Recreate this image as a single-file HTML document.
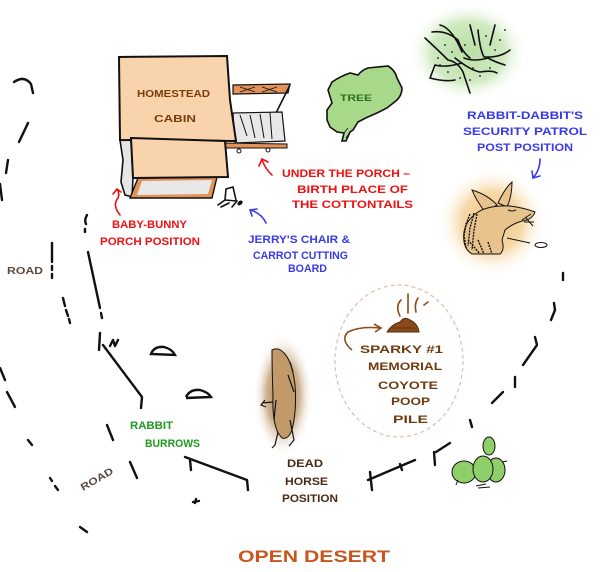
<!DOCTYPE html>
<html><head><meta charset="utf-8"><style>
html,body{margin:0;padding:0;background:#fff}
svg{display:block}
text{font-family:"Liberation Sans",sans-serif;font-weight:bold}
.r{fill:none;stroke:#111;stroke-width:2.4;stroke-linecap:round;stroke-linejoin:round}
.t{fill:none;stroke:#111;stroke-width:1.6;stroke-linecap:round;stroke-linejoin:round}
</style></head><body>
<svg width="600" height="572" viewBox="0 0 600 572" xmlns="http://www.w3.org/2000/svg">
<defs>
<radialGradient id="gShrub"><stop offset="0" stop-color="#b9dfa6"/><stop offset="0.6" stop-color="#cfe9c0"/><stop offset="1" stop-color="#fff" stop-opacity="0"/></radialGradient>
<radialGradient id="gRab"><stop offset="0" stop-color="#f0c07a"/><stop offset="0.55" stop-color="#f6d9a8"/><stop offset="1" stop-color="#fff" stop-opacity="0"/></radialGradient>
<radialGradient id="gHorse"><stop offset="0" stop-color="#a47a4e"/><stop offset="0.55" stop-color="#cfb290"/><stop offset="1" stop-color="#fff" stop-opacity="0"/></radialGradient>
</defs>

<!-- Cabin -->
<polygon points="120,140 131,139 133,178 132,197 125,195 121,182 123,160" fill="#e6e6e6" stroke="#111" stroke-width="1.6"/>
<polygon points="138,178 217,177 212,198 130,198" fill="#e3925a" stroke="#111" stroke-width="1.4"/>
<polygon points="142,181 212,180 208,194 137,195" fill="#e8e8e8"/>
<polygon points="233,85 290,84 288,93 233,94" fill="#e3925a" stroke="#111" stroke-width="1.2"/>
<path d="M240,87 L255,92 M255,87 L240,92 M262,87 L277,92 M277,87 L262,92" stroke="#111" stroke-width="0.8"/>
<path d="M290,85 L276,113" class="t"/>
<polygon points="233,113 282,112 285,141 235,143" fill="#e8e8e8" stroke="#111" stroke-width="1.2"/>
<path d="M240,115 L247,136 M250,115 L255,138 M260,114 L264,138 M270,113 L272,139" stroke="#111" stroke-width="1"/>
<polygon points="225,143 287,144 287,148 226,148" fill="#e3925a" stroke="#111" stroke-width="1"/>
<circle cx="239" cy="151" r="2" fill="#fff" stroke="#111"/>
<circle cx="268" cy="150" r="2" fill="#fff" stroke="#111"/>
<polygon points="119,57 227,56 230,100 236,141 120,140" fill="#f9d3ab" stroke="#111" stroke-width="2"/>
<polygon points="131,138 225,141 228,177 133,178" fill="#f9d3ab" stroke="#111" stroke-width="2"/>
<text x="137" y="97" font-size="10.5" fill="#7a3d0c" textLength="73" lengthAdjust="spacingAndGlyphs">HOMESTEAD</text>
<text x="154" y="122" font-size="10.5" fill="#7a3d0c" textLength="42" lengthAdjust="spacingAndGlyphs">CABIN</text>

<!-- chair -->
<path d="M226,189 L233,187 L236,200 M226,189 L225,200 L237,201 M218,205 L225,200 M237,201 L232,207 M221,207 L229,203" class="t"/>
<ellipse cx="240" cy="203" rx="3" ry="2" fill="#111" transform="rotate(-40 240 203)"/>

<!-- Tree -->
<path d="M332,82 Q341,76 350,73 L358,75 Q362,70 368,68 L388,66 Q395,70 397,78 L402,88 Q402,95 397,100 L387,108 L377,113 Q367,117 358,122 L353,130 L350,132 L346,141 L342,141 L344,133 L337,132 L330,127 L327,120 L327,110 L332,103 L328,90 Z" fill="#a8d98b" stroke="#111" stroke-width="1.6"/>
<path d="M344,133 L348,128 M346,138 L351,131" stroke="#111" stroke-width="0.8"/>
<text x="340" y="101" font-size="9" fill="#2d6b20" textLength="32" lengthAdjust="spacingAndGlyphs">TREE</text>

<!-- Shrub -->
<ellipse cx="468" cy="52" rx="60" ry="50" fill="url(#gShrub)"/>
<g class="t" stroke-width="1.1">
<path d="M425,38 Q438,50 448,60 Q458,62 463,72 L470,93"/>
<path d="M432,32 Q446,30 458,40 Q462,52 470,58"/>
<path d="M440,25 Q452,28 462,52"/>
<path d="M470,25 L475,45 M478,30 Q480,50 484,57 Q500,58 510,50"/>
<path d="M495,25 L490,45"/>
<path d="M464,58 Q474,62 488,58 Q495,62 505,65"/>
<path d="M462,63 Q445,68 435,65 L430,78 Q445,82 455,80"/>
<path d="M455,58 Q470,70 480,72 Q492,70 497,73"/>
</g>
<g fill="#111">
<circle cx="445" cy="45" r="0.9"/><circle cx="452" cy="52" r="0.9"/><circle cx="438" cy="58" r="0.9"/><circle cx="486" cy="36" r="0.9"/><circle cx="500" cy="40" r="0.9"/><circle cx="505" cy="30" r="0.9"/><circle cx="470" cy="80" r="0.9"/><circle cx="480" cy="76" r="0.9"/><circle cx="490" cy="68" r="0.9"/><circle cx="460" cy="78" r="0.9"/><circle cx="448" cy="72" r="0.9"/><circle cx="495" cy="50" r="0.9"/><circle cx="465" cy="45" r="0.9"/><circle cx="473" cy="68" r="0.9"/><circle cx="440" cy="65" r="0.9"/>
</g>

<!-- Rabbit -->
<circle cx="492" cy="222" r="55" fill="url(#gRab)"/>
<path d="M472,190 Q488,195 497,205 L485,212 Q476,200 472,190 Z" fill="#e8c38c" stroke="#111" stroke-width="1"/>
<path d="M498,203 Q505,188 512,182 Q512,196 507,207 Z" fill="#e8c38c" stroke="#111" stroke-width="1"/>
<path d="M478,212 Q490,205 510,206 Q525,208 535,212 Q532,220 522,221 Q512,224 505,230 L502,240 Q505,250 500,254 L472,254 Q462,248 464,232 Q466,220 478,212 Z" fill="#e8c38c" stroke="#111" stroke-width="1"/>
<path d="M470,214 L466,224 L464,236 L466,248 M474,213 L470,228 L468,246 M477,214 L474,230 L472,250 M468,240 L480,254 M478,240 L484,254 M488,242 L492,254" stroke="#111" stroke-width="1.4" fill="none" stroke-dasharray="2 1"/>
<path d="M522,220 L531,214 M524,222 L534,222 M526,218 L533,226 M507,238 L530,243" stroke="#111" stroke-width="1" fill="none"/>
<path d="M508,210 Q512,212 516,210" stroke="#111" stroke-width="1" fill="none"/>
<ellipse cx="541" cy="245" rx="6" ry="2.5" fill="#fff" stroke="#111" stroke-width="1"/>

<!-- Dead horse -->
<ellipse cx="283" cy="395" rx="30" ry="62" fill="url(#gHorse)"/>
<path d="M272,350 Q278,347 283,352 Q292,360 295,385 Q297,410 292,430 Q288,440 282,438 L278,433 Q272,420 273,395 Q272,370 272,350 Z" fill="#c29a6a" stroke="#111" stroke-width="1"/>
<path d="M290,362 L293,372 M288,375 L294,392 M276,400 L274,420 M290,420 L294,440 L289,446 M278,432 L275,445 L272,448 M273,402 L262,403 M265,400 L261,405 L266,407" stroke="#111" stroke-width="1.2" fill="none"/>

<!-- Cactus -->
<ellipse cx="464" cy="472" rx="12" ry="11" fill="#8fcf6a" stroke="#111" stroke-width="1"/>
<ellipse cx="496" cy="470" rx="9" ry="12" fill="#8fcf6a" stroke="#111" stroke-width="1"/>
<ellipse cx="483" cy="469" rx="10" ry="13" fill="#8fcf6a" stroke="#111" stroke-width="1"/>
<ellipse cx="489" cy="446" rx="6" ry="9" fill="#8fcf6a" stroke="#111" stroke-width="1"/>
<path d="M476,486 L486,484 M478,488 L490,487 M502,462 L507,461 M458,480 L456,485" stroke="#111" stroke-width="1"/>

<!-- Sparky ellipse -->
<ellipse cx="399" cy="361" rx="64" ry="76" fill="none" stroke="#e4c0b6" stroke-width="1.3" stroke-dasharray="4 3"/>
<path d="M387,332 Q392,324 400,322 Q404,316 410,320 Q418,324 419,332 Z" fill="#8b4a1a" stroke="#5a2a08" stroke-width="1"/>
<path d="M392,328 L415,328" stroke="#5a2a08" stroke-width="0.8"/>
<path d="M400,316 Q395,306 401,300 M408,313 L408,294 M416,312 Q414,304 418,298 M424,305 L428,302" stroke="#8b4a1a" stroke-width="1.6" fill="none" stroke-linecap="round"/>
<path d="M352,350 Q340,340 348,332 Q360,326 380,328" stroke="#8b4a1a" stroke-width="1.6" fill="none"/>
<path d="M374,324 L381,328 L375,332" stroke="#8b4a1a" stroke-width="1.6" fill="none"/>
<g fill="#6e3b10" font-size="11">
<text x="360" y="353" textLength="83" lengthAdjust="spacingAndGlyphs">SPARKY #1</text>
<text x="368" y="370" textLength="74" lengthAdjust="spacingAndGlyphs">MEMORIAL</text>
<text x="378" y="389" textLength="60" lengthAdjust="spacingAndGlyphs">COYOTE</text>
<text x="391" y="405" textLength="39" lengthAdjust="spacingAndGlyphs">POOP</text>
<text x="393" y="423" textLength="35" lengthAdjust="spacingAndGlyphs">PILE</text>
</g>

<!-- Burrows -->
<path d="M151,354 Q154,346 164,347 Q172,349 175,355 Z" fill="#fff" stroke="#111" stroke-width="2.4"/>
<path d="M186,397 Q190,389 200,390 Q208,392 211,397 L186,398" fill="#fff" stroke="#111" stroke-width="2.4"/>

<!-- Road strokes -->
<g class="r">
<path d="M14,82 Q24,75 31,84 L33,93"/>
<path d="M28,123 L19,142"/>
<path d="M8,160 L6,173"/>
<path d="M0,184 L2,200"/>
<path d="M0,368 L5,380"/>
<path d="M7,392 L15,407"/>
<path d="M28,440 L32,445"/>
<path d="M50,478 L52,481 M55,486 L58,490"/>
<path d="M80,527 L87,532"/>
<path d="M52,243 L52,262 M52,266 L52,270 M52,274 L52,278"/>
<path d="M63,298 L65,306 M66,310 L68,316 M69,319 L70,323"/>
<path d="M87,215 Q84,220 86,224 M85,229 L85,232"/>
<path d="M88,252 L100,308 M101,313 L102,318"/>
<path d="M100,333 L99,350"/>
<path d="M103,345 L142,397 L141,408"/>
<path d="M110,346 L113,340 L115,346 L118,340"/>
<path d="M107,425 L113,440"/>
<path d="M130,462 L137,478"/>
<path d="M185,457 L247,480 L248,490"/>
<path d="M190,460 L191,470"/>
<path d="M196,499 L195,503 M193,502 L199,501"/>
<path d="M563,273 L563,280"/>
<path d="M554,303 L555,310 L551,320"/>
<path d="M535,337 L537,345 L523,365"/>
<path d="M515,377 L515,387"/>
<path d="M503,392 L492,403"/>
<path d="M470,420 L472,427"/>
<path d="M450,443 L436,452 M434,452 L435,465"/>
<path d="M415,460 L368,480 M400,464 L402,470 M370,472 L372,490"/>
</g>

<!-- Arrows -->
<path d="M272,175 Q266,170 262,160 M259,166 L262,159 L268,162" stroke="#ee1111" stroke-width="1.6" fill="none" stroke-linecap="round"/>
<path d="M120,215 Q112,205 118,198 Q120,194 117,189 M113,194 L117,189 L121,192" stroke="#ee1111" stroke-width="1.6" fill="none" stroke-linecap="round"/>
<path d="M266,223 Q262,214 251,210 M252,216 L250,210 L257,209" stroke="#3a3ae8" stroke-width="1.6" fill="none" stroke-linecap="round"/>
<path d="M540,159 Q540,170 533,178 M532,171 L533,178 L540,176" stroke="#3a3ae8" stroke-width="1.6" fill="none" stroke-linecap="round"/>

<!-- Labels -->
<g fill="#ee1111" font-size="11">
<text x="282" y="177" textLength="128" lengthAdjust="spacingAndGlyphs">UNDER THE PORCH –</text>
<text x="297" y="193" textLength="111" lengthAdjust="spacingAndGlyphs">BIRTH PLACE OF</text>
<text x="292" y="208" textLength="121" lengthAdjust="spacingAndGlyphs">THE COTTONTAILS</text>
<text x="112" y="228" textLength="75" lengthAdjust="spacingAndGlyphs">BABY-BUNNY</text>
<text x="100" y="245" textLength="100" lengthAdjust="spacingAndGlyphs">PORCH POSITION</text>
</g>
<g fill="#3a3ae8" font-size="11">
<text x="248" y="243" textLength="102" lengthAdjust="spacingAndGlyphs">JERRY'S CHAIR &amp;</text>
<text x="253" y="259" textLength="95" lengthAdjust="spacingAndGlyphs">CARROT CUTTING</text>
<text x="288" y="272" textLength="39" lengthAdjust="spacingAndGlyphs">BOARD</text>
<text x="467" y="119" textLength="116" lengthAdjust="spacingAndGlyphs">RABBIT-DABBIT'S</text>
<text x="463" y="135" textLength="124" lengthAdjust="spacingAndGlyphs">SECURITY PATROL</text>
<text x="477" y="151" textLength="96" lengthAdjust="spacingAndGlyphs">POST POSITION</text>
</g>
<g fill="#1f9a1f" font-size="11">
<text x="130" y="429" textLength="43" lengthAdjust="spacingAndGlyphs">RABBIT</text>
<text x="145" y="447" textLength="55" lengthAdjust="spacingAndGlyphs">BURROWS</text>
</g>
<g fill="#5a4a40" font-size="10">
<text x="7" y="274" textLength="36" lengthAdjust="spacingAndGlyphs">ROAD</text>
<text x="0" y="0" textLength="36" lengthAdjust="spacingAndGlyphs" transform="translate(83,491) rotate(-30)">ROAD</text>
</g>
<g fill="#4a2a10" font-size="11">
<text x="287" y="467" textLength="36" lengthAdjust="spacingAndGlyphs">DEAD</text>
<text x="285" y="485" textLength="43" lengthAdjust="spacingAndGlyphs">HORSE</text>
<text x="282" y="502" textLength="56" lengthAdjust="spacingAndGlyphs">POSITION</text>
</g>
<text x="238" y="562" font-size="17" fill="#c9561c" textLength="152" lengthAdjust="spacingAndGlyphs">OPEN DESERT</text>
</svg>
</body></html>
